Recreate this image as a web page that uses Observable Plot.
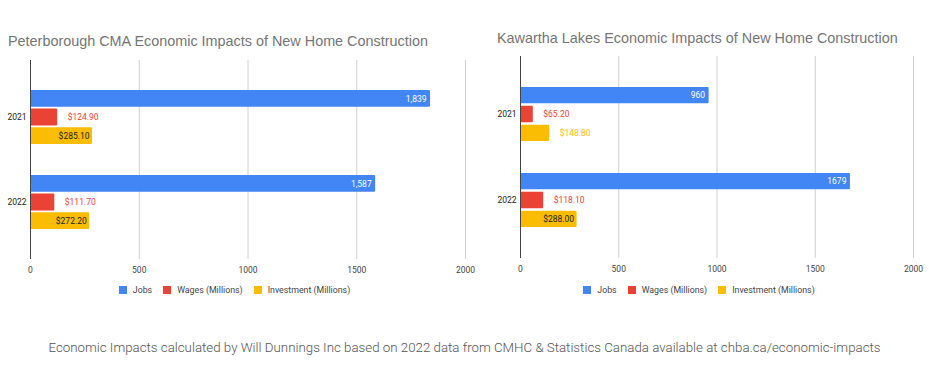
<!DOCTYPE html>
<html>
<head>
<meta charset="utf-8">
<script src="https://cdn.jsdelivr.net/npm/d3@7"></script>
<script src="https://cdn.jsdelivr.net/npm/@observablehq/plot@0.6"></script>
<style>
  body { margin: 0; background: #fff; }
  #root { position: relative; width: 929px; height: 373px; overflow: hidden; background: #fff; font-family: Roboto, sans-serif; }
  .title { position: absolute; font-family: "Liberation Sans", Arial, sans-serif; font-size: 14.4px; line-height: 16px; color: #757575; white-space: nowrap; }
  .chart { position: absolute; }
  .lgwrap { position: absolute; display: flex; justify-content: center; }
  #root .lg-swatches { font-family: Roboto, sans-serif; font-size: 8.8px; color: #444; margin: 0; min-height: 0; display: flex; justify-content: center; }
  #root .lg-swatch { margin-right: 11px; }
  #root .lg-swatch > svg { margin-right: 6px; }
  .caption { position: absolute; left: 0; width: 929px; top: 340px; text-align: center; font-family: Roboto, sans-serif; font-weight: 300; font-size: 13.3px; line-height: 16px; color: #555; white-space: nowrap; }
</style>
</head>
<body>
<div id="root"></div>
<script>
// ---- data ----
const years = ["2021", "2022"];
const seriesNames = ["Jobs", "Wages (Millions)", "Investment (Millions)"];
const seriesColors = ["#4285F4", "#EA4335", "#FBBC04"];
const xTicks = [0, 500, 1000, 1500, 2000];

const peterboroughTitle = "Peterborough CMA Economic Impacts of New Home Construction";
const peterboroughJobs = [1839, 1587];
const peterboroughWages = [124.90, 111.70];
const peterboroughInvestment = [285.10, 272.20];

const kawarthaTitle = "Kawartha Lakes Economic Impacts of New Home Construction";
const kawarthaJobs = [960, 1679];
const kawarthaWages = [65.20, 118.10];
const kawarthaInvestment = [148.80, 288.00];

const captionText = "Economic Impacts calculated by Will Dunnings Inc based on 2022 data from CMHC & Statistics Canada available at chba.ca/economic-impacts";

// ---- build ----
const root = document.getElementById("root");
const money = d3.format("$.2f");
const PAD_IN = 0.37, PAD_OUT = 0.35, BAR_GAP = 1.9;

function makeChart(cfg) {
  const {title, jobs, wages, investment, jobsFormat, left, top, width, height, ml, mr, mt, mb, titleLeft, titleTop} = cfg;
  const rows = [];
  years.forEach((yr, i) => {
    rows.push({year: yr, series: seriesNames[0], value: jobs[i], label: jobsFormat(jobs[i])});
    rows.push({year: yr, series: seriesNames[1], value: wages[i], label: money(wages[i])});
    rows.push({year: yr, series: seriesNames[2], value: investment[i], label: money(investment[i])});
  });
  const pxPerUnit = (width - ml - mr) / 2000;
  rows.forEach(r => {
    const barPx = r.value * pxPerUnit;
    const labelPx = r.label.length * 4.8;
    r.inside = barPx > labelPx + 8;
  });

  // band geometry for the grouped (dodged) bars inside each year band
  const band = d3.scaleBand().domain(years).range([mt, height - mb]).paddingInner(PAD_IN).paddingOuter(PAD_OUT).bandwidth();
  const h = (band - 2 * BAR_GAP) / 3;

  const t = document.createElement("div");
  t.className = "title";
  t.style.left = titleLeft + "px";
  t.style.top = titleTop + "px";
  t.textContent = title;
  root.appendChild(t);

  const marks = [
    Plot.ruleX(xTicks.slice(1), {stroke: "#d0d0d0", strokeWidth: 1}),
    Plot.axisX({ticks: xTicks, tickFormat: d => String(d), tickSize: 0, tickPadding: 7, label: null, fill: "#444"}),
    Plot.axisY({tickSize: 0, tickPadding: 4, label: null, fill: "#222"})
  ];
  seriesNames.forEach((s, i) => {
    const data = rows.filter(r => r.series === s);
    const insetTop = i * (h + BAR_GAP);
    const insetBottom = band - insetTop - h;
    const dy = -band / 2 + insetTop + h / 2;
    marks.push(Plot.barX(data, {x: "value", y: "year", fill: "series", insetTop, insetBottom, rx: 1}));
    const ins = data.filter(r => r.inside), outs = data.filter(r => !r.inside);
    marks.push(Plot.text(ins, {x: "value", y: "year", text: "label", textAnchor: "end", dx: i === 0 ? -4 : -3, dy, fill: i === 0 ? "#fff" : "#222"}));
    marks.push(Plot.text(outs, {x: "value", y: "year", text: "label", textAnchor: "start", dx: 10, dy, fill: "series"}));
  });
  marks.push(Plot.ruleX([0], {stroke: "#444", strokeWidth: 1}));

  const chart = Plot.plot({
    width, height,
    marginLeft: ml, marginRight: mr, marginTop: mt, marginBottom: mb,
    style: {fontFamily: "Roboto, sans-serif", fontSize: "8.5px", color: "#444", background: "#fff", overflow: "visible"},
    x: {domain: [0, 2000]},
    y: {domain: years, type: "band", paddingInner: PAD_IN, paddingOuter: PAD_OUT, label: null},
    color: {domain: seriesNames, range: seriesColors},
    marks
  });
  chart.classList.add("chart");
  chart.style.left = left + "px";
  chart.style.top = top + "px";
  root.appendChild(chart);

  const lw = document.createElement("div");
  lw.className = "lgwrap";
  lw.style.left = left + "px";
  lw.style.width = width + "px";
  lw.style.top = "285px";
  lw.appendChild(Plot.legend({
    color: {domain: seriesNames, range: seriesColors},
    legend: "swatches", swatchSize: 8, className: "lg"
  }));
  root.appendChild(lw);
}

makeChart({
  title: peterboroughTitle, jobs: peterboroughJobs, wages: peterboroughWages, investment: peterboroughInvestment,
  jobsFormat: d3.format(","),
  left: 0, top: 50, width: 480, height: 230, ml: 30, mr: 15, mt: 10, mb: 21,
  titleLeft: 8, titleTop: 33
});
makeChart({
  title: kawarthaTitle, jobs: kawarthaJobs, wages: kawarthaWages, investment: kawarthaInvestment,
  jobsFormat: d => String(d),
  left: 480, top: 46, width: 449, height: 234, ml: 40, mr: 16, mt: 10, mb: 22,
  titleLeft: 497, titleTop: 30
});

const cap = document.createElement("div");
cap.className = "caption";
cap.textContent = captionText;
root.appendChild(cap);
</script>
</body>
</html>
